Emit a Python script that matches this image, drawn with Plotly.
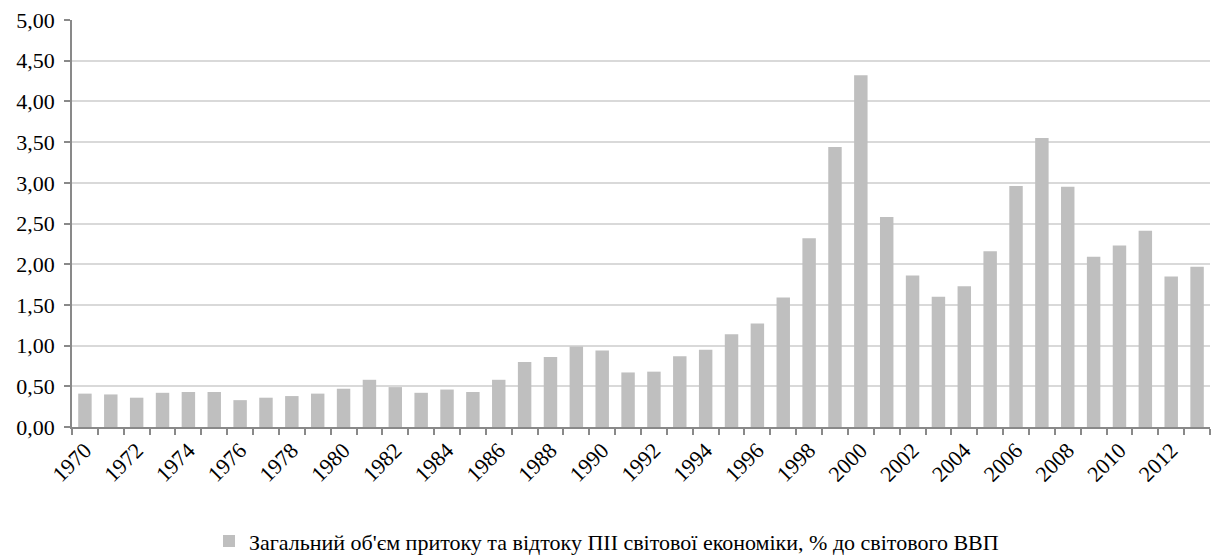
import plotly.graph_objects as go

# Years and total FDI inflow+outflow of the world economy, % of world GDP
years = list(range(1970, 2014))
fdi_share = [
    0.41, 0.40, 0.36, 0.42, 0.43, 0.43, 0.33, 0.36, 0.38, 0.41,
    0.47, 0.58, 0.49, 0.42, 0.46, 0.43, 0.58, 0.80, 0.86, 0.99,
    0.94, 0.67, 0.68, 0.87, 0.95, 1.14, 1.27, 1.59, 2.32, 3.44,
    4.32, 2.58, 1.86, 1.60, 1.73, 2.16, 2.96, 3.55, 2.95, 2.09,
    2.23, 2.41, 1.85, 1.97,
]
label_years = list(range(1970, 2013, 2))
series_name = "Загальний об'єм притоку та відтоку ПІІ світової економіки, % до світового ВВП"

serif = "Liberation Serif"
axis_grey = "#898989"
text_font = dict(family=serif, size=22, color="black")

fig = go.Figure()
fig.add_trace(
    go.Bar(
        x=years,
        y=fdi_share,
        name=series_name,
        marker=dict(color="#bfbfbf", line=dict(width=0)),
        showlegend=True,
    )
)

fig.update_layout(
    width=1213,
    height=555,
    margin=dict(l=72, r=3, t=20, b=128, autoexpand=False),
    plot_bgcolor="white",
    paper_bgcolor="white",
    bargap=0.48,
    separators=", ",
    font=text_font,
    legend=dict(
        orientation="h",
        x=0.5,
        xanchor="center",
        xref="container",
        y=0.025,
        yanchor="middle",
        yref="container",
        font=text_font,
        itemwidth=30,
    ),
    xaxis=dict(
        range=[1969.5, 2013.5],
        tickmode="array",
        tickvals=label_years,
        ticktext=[str(y) for y in label_years],
        tickangle=-45,
        ticks="",
        showgrid=False,
        showline=True,
        linecolor=axis_grey,
        linewidth=1.5,
        zeroline=False,
        tickfont=text_font,
        minor=dict(
            tickmode="linear",
            tick0=1969.5,
            dtick=1,
            ticks="outside",
            ticklen=6,
            tickcolor=axis_grey,
            tickwidth=1.5,
            showgrid=False,
        ),
    ),
    yaxis=dict(
        range=[0, 5],
        tickmode="linear",
        tick0=0,
        dtick=0.5,
        tickformat=".2f",
        ticks="outside",
        ticklen=6,
        tickcolor=axis_grey,
        tickwidth=1.5,
        ticklabelstandoff=5,
        showline=True,
        linecolor=axis_grey,
        linewidth=1.5,
        showgrid=True,
        gridcolor="#d9d9d9",
        gridwidth=1.5,
        zeroline=False,
        tickfont=text_font,
    ),
)

fig.write_html("out.html")
